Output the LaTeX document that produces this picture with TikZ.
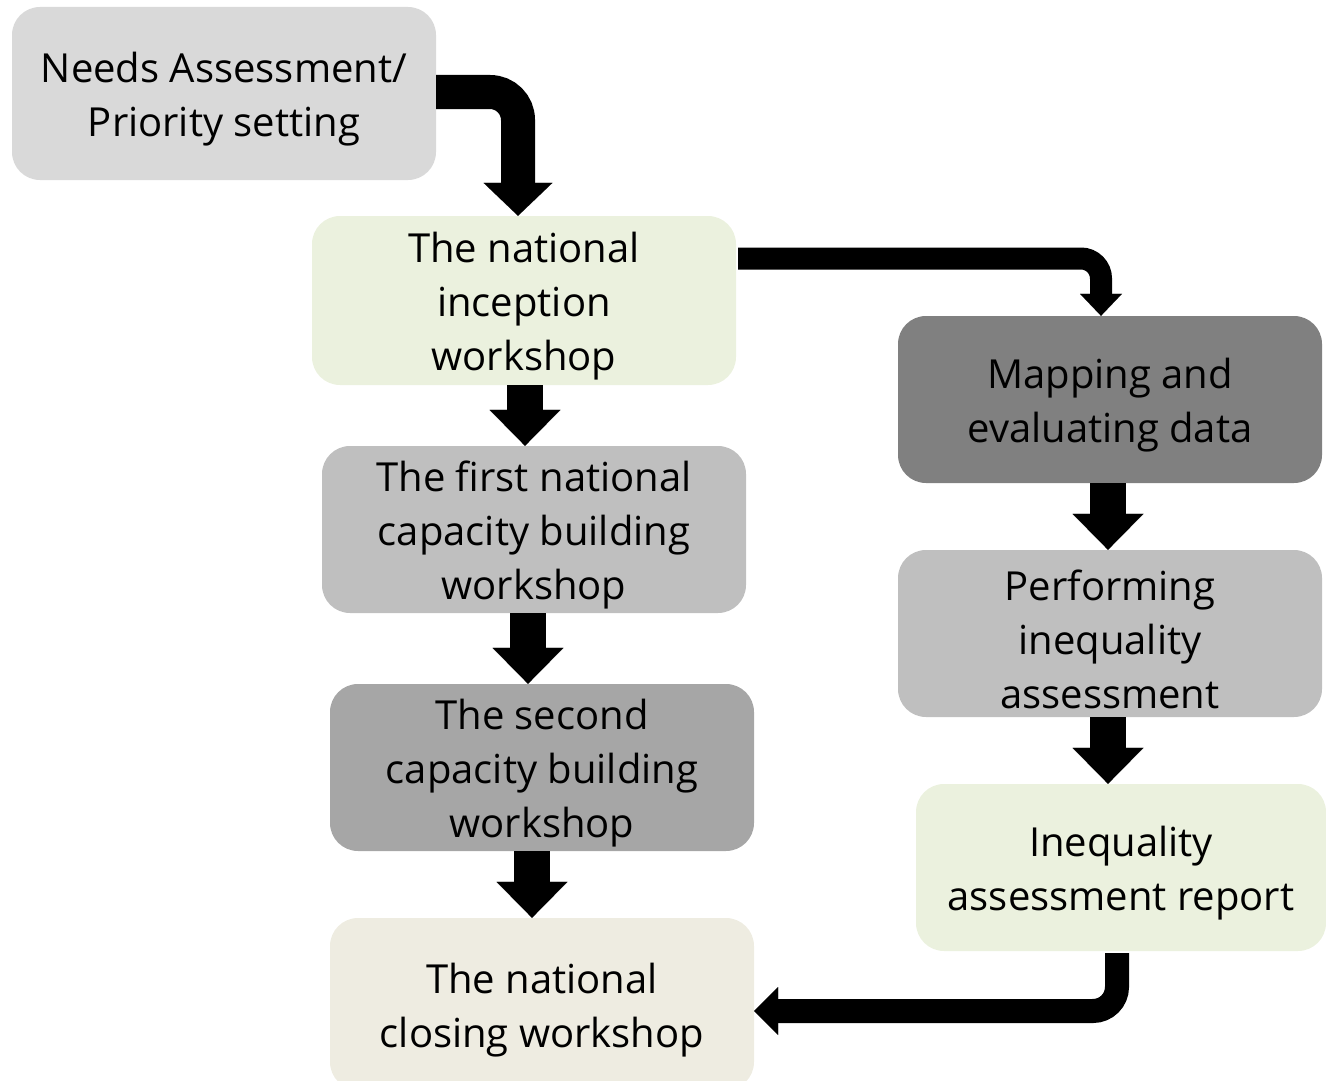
\documentclass[tikz,border=0pt]{standalone}
\usepackage{fontspec}
\setmainfont{Open Sans}
\usetikzlibrary{arrows.meta,calc}

\definecolor{boxgrayA}{HTML}{D9D9D9}
\definecolor{boxgreen}{HTML}{EBF1DE}
\definecolor{boxgrayB}{HTML}{BFBFBF}
\definecolor{boxgrayC}{HTML}{A6A6A6}
\definecolor{boxgrayD}{HTML}{808080}
\definecolor{boxtan}{HTML}{EEECE1}

% a tall invisible strut that sets the text a little lower in its box
\newcommand\firstlinestrut{\rule{0pt}{42pt}}

\begin{document}
\begin{tikzpicture}[x=1pt,y=-1pt,
  stage/.style={rounded corners=28pt, inner sep=0pt, align=center,
    minimum width=424pt, minimum height=167pt,
    font=\fontsize{40}{54}\selectfont},
  bigarrow/.style={line width=34pt, rounded corners=28pt,
    -{Triangle[width=69pt,length=33pt,line width=0.01pt]}},
  thinarrow/.style={line width=22pt, rounded corners=20pt,
    -{Triangle[width=42pt,length=22pt,line width=0.01pt]}},
  backarrow/.style={line width=24pt, rounded corners=24pt,
    -{Triangle[width=48pt,length=24pt,line width=0.01pt]}},
  downarrow/.style={line width=36pt,
    -{Triangle[width=71pt,length=36pt,line width=0.01pt]}}]

\useasboundingbox (0,0) rectangle (1326,1081);

% stages of the left column
\node[stage, fill=boxgrayA, minimum height=173pt] (needs) at (224,93.5)
  {\firstlinestrut Needs Assessment/\\Priority setting};
\node[stage, fill=boxgreen, minimum height=169pt] (inc) at (524,300.5)
  {\firstlinestrut The national\\inception\\workshop};
\node[stage, fill=boxgrayB] (first) at (534,529.5)
  {\firstlinestrut The first national\\capacity building\\workshop};
\node[stage, fill=boxgrayC] (second) at (542,767.5)
  {\firstlinestrut The second\\capacity building\\workshop};
\node[stage, fill=boxtan, minimum height=172pt] (closing) at (542,1004)
  {\firstlinestrut The national\\closing workshop};

% stages of the right column
\node[stage, fill=boxgrayD] (map) at (1110,399.5)
  {\firstlinestrut Mapping and\\evaluating data};
\node[stage, fill=boxgrayB] (perf) at (1110,633.5)
  {\firstlinestrut Performing\\inequality\\assessment};
\node[stage, fill=boxgreen, minimum width=410pt] (report) at (1121,867.5)
  {\firstlinestrut Inequality\\assessment report};

% connectors
\draw[bigarrow] ($(needs.east)+(0,-1.5)$) -| ($(inc.north)+(-6,0)$);
\draw[thinarrow] ($(inc.east)+(2,-42)$) -| ($(map.north)+(-9,0)$);
\draw[downarrow] ($(inc.south)+(1,0)$) -- ($(first.north)+(-9,0)$);
\draw[downarrow] ($(first.south)+(-6,0)$) -- ($(second.north)+(-14,0)$);
\draw[downarrow] ($(second.south)+(-10,0)$) -- ($(closing.north)+(-10,0)$);
\draw[downarrow] ($(map.south)+(-2,0)$) -- ($(perf.north)+(-2,0)$);
\draw[downarrow] ($(perf.south)+(-2,0)$) -- ($(report.north)+(-13,0)$);
\draw[backarrow] ($(report.south)+(-4,2)$) |- ($(closing.east)+(0,7)$);
\end{tikzpicture}
\end{document}
